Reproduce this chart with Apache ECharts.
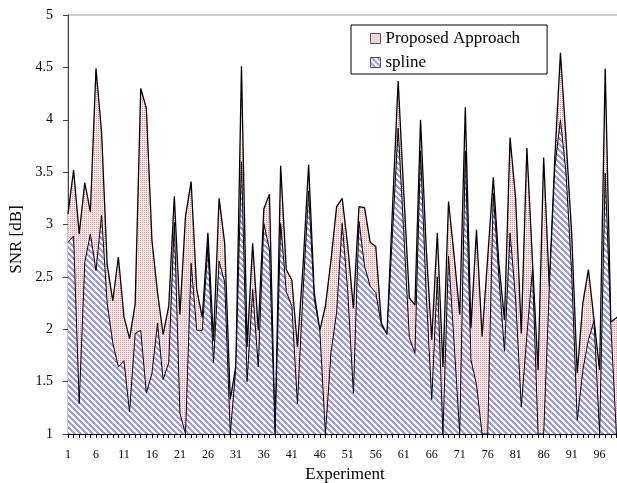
<!DOCTYPE html>
<html>
<head>
<meta charset="utf-8">
<script src="https://cdn.jsdelivr.net/npm/echarts@6/dist/echarts.min.js"></script>
<style>
  html, body { margin: 0; padding: 0; background: #fff; }
  #chart { width: 617px; height: 483px; }
</style>
</head>
<body>
<div id="chart"></div>
<script>
// experiment numbers 1..100
const experiments = [
  1, 2, 3, 4, 5, 6, 7, 8, 9, 10, 11, 12, 13, 14, 15, 16, 17, 18, 19, 20,
  21, 22, 23, 24, 25, 26, 27, 28, 29, 30, 31, 32, 33, 34, 35, 36, 37, 38, 39, 40,
  41, 42, 43, 44, 45, 46, 47, 48, 49, 50, 51, 52, 53, 54, 55, 56, 57, 58, 59, 60,
  61, 62, 63, 64, 65, 66, 67, 68, 69, 70, 71, 72, 73, 74, 75, 76, 77, 78, 79, 80,
  81, 82, 83, 84, 85, 86, 87, 88, 89, 90, 91, 92, 93, 94, 95, 96, 97, 98, 99, 100
];

const proposedSnr = [
  3.10, 3.52, 2.91, 3.40, 3.12, 4.49, 3.88, 2.62, 2.27, 2.69,
  2.12, 1.91, 2.24, 4.30, 4.11, 2.85, 2.35, 1.95, 2.22, 3.27,
  2.14, 3.08, 3.41, 2.38, 2.11, 2.92, 1.89, 3.25, 2.82, 1.33,
  1.65, 4.51, 1.83, 2.82, 1.99, 3.15, 3.29, 1.00, 3.56, 2.57,
  2.47, 1.83, 2.60, 3.57, 2.35, 1.99, 2.22, 2.66, 3.17, 3.25,
  2.79, 2.20, 3.17, 3.16, 2.83, 2.79, 2.06, 1.95, 3.17, 4.37,
  3.30, 2.30, 2.23, 4.00, 2.79, 1.90, 2.92, 1.64, 3.22, 2.70,
  2.14, 4.12, 2.01, 2.95, 1.93, 2.68, 3.45, 2.63, 2.09, 3.83,
  3.24, 1.96, 3.73, 2.65, 1.61, 3.64, 2.41, 3.64, 4.64, 3.81,
  2.92, 1.58, 2.25, 2.57, 2.09, 1.61, 4.49, 2.07, 2.11, 2.15
];

const splineSnr = [
  2.83, 2.89, 1.29, 2.64, 2.91, 2.56, 3.09, 2.25, 1.87, 1.64,
  1.70, 1.21, 1.96, 1.99, 1.39, 1.58, 2.06, 1.52, 1.68, 3.02,
  1.20, 1.00, 2.63, 1.99, 1.99, 2.79, 1.68, 2.65, 2.45, 1.00,
  1.64, 3.60, 1.50, 2.38, 1.64, 3.01, 2.76, 1.00, 3.01, 2.36,
  2.22, 1.29, 2.35, 3.32, 2.29, 1.99, 1.00, 1.78, 2.16, 3.01,
  2.35, 1.39, 3.03, 2.60, 2.41, 2.35, 2.04, 1.95, 2.93, 3.92,
  2.92, 1.92, 1.77, 3.70, 2.35, 1.33, 2.50, 1.00, 2.70, 1.87,
  1.00, 3.70, 1.71, 1.47, 1.00, 1.00, 3.30, 2.50, 1.79, 2.92,
  2.28, 1.26, 1.94, 2.57, 1.00, 1.00, 2.38, 3.55, 4.00, 3.49,
  2.54, 1.13, 1.61, 1.90, 2.08, 1.00, 3.49, 2.05, 1.00, 1.00
];

const FONT = '"Liberation Serif", "DejaVu Serif", serif';

// small repeating fills like the old spreadsheet patterns
function dotPattern() {
  const c = document.createElement('canvas');
  c.width = 2; c.height = 2;
  const ctx = c.getContext('2d');
  ctx.fillStyle = '#fdeaea';
  ctx.fillRect(0, 0, 2, 2);
  ctx.fillStyle = '#f29494';
  ctx.fillRect(0, 0, 1, 1);
  return { image: c, repeat: 'repeat' };
}

function hatchPattern() {
  const n = 6;
  const c = document.createElement('canvas');
  c.width = n; c.height = n;
  const ctx = c.getContext('2d');
  ctx.fillStyle = '#ffffff';
  ctx.fillRect(0, 0, n, n);
  ctx.fillStyle = '#9a9af2';
  for (let y = 0; y < n; y++) {
    for (let x = 0; x < n; x++) {
      if (((x - y) % n + n) % n < 3) ctx.fillRect(x, y, 1, 1);
    }
  }
  return { image: c, repeat: 'repeat' };
}

const chart = echarts.init(document.getElementById('chart'), null, { renderer: 'canvas' });

const pink = dotPattern();
const blue = hatchPattern();

chart.setOption({
  animation: false,
  textStyle: { fontFamily: FONT },
  grid: {
    left: 68,
    top: 15,
    width: 554,
    bottom: 49,
    outerBoundsMode: 'none',
    containLabel: false,
    show: true,
    borderColor: '#999',
    borderWidth: 1,
    backgroundColor: 'transparent'
  },
  legend: {
    orient: 'vertical',
    left: 351,
    top: 25,
    padding: [5, 27, 3, 19],
    itemGap: 7,
    itemWidth: 10,
    itemHeight: 10,
    backgroundColor: '#fff',
    borderColor: '#000',
    borderWidth: 1,
    borderRadius: 0,
    textStyle: { fontFamily: FONT, fontSize: 17, color: '#000' },
    data: [
      { name: 'Proposed Approach', icon: 'rect', itemStyle: { color: pink, borderColor: '#555', borderWidth: 1 } },
      { name: 'spline', icon: 'rect', itemStyle: { color: blue, borderColor: '#555', borderWidth: 1 } }
    ]
  },
  xAxis: {
    type: 'category',
    data: experiments,
    boundaryGap: false,
    name: 'Experiment',
    nameLocation: 'middle',
    nameGap: 31,
    nameTextStyle: { fontFamily: FONT, fontSize: 17, color: '#000' },
    axisLine: { lineStyle: { color: '#000', width: 1 } },
    axisTick: { show: true, interval: 0, length: 4, lineStyle: { color: '#000' } },
    axisLabel: { interval: 4, margin: 15, fontFamily: FONT, fontSize: 12, color: '#000' },
    splitLine: { show: false }
  },
  yAxis: {
    type: 'value',
    min: 1,
    max: 5,
    interval: 0.5,
    name: 'SNR [dB]',
    nameLocation: 'middle',
    nameGap: 42,
    nameTextStyle: { fontFamily: FONT, fontSize: 17, color: '#000', padding: [0, 30, 0, 0] },
    axisLine: { show: true, lineStyle: { color: '#444', width: 1 } },
    axisTick: { show: true, length: 5, lineStyle: { color: '#444' } },
    axisLabel: { margin: 15, fontFamily: FONT, fontSize: 14, color: '#000' },
    splitLine: { show: false }
  },
  series: [
    {
      name: 'Proposed Approach',
      type: 'line',
      data: proposedSnr,
      symbol: 'none',
      itemStyle: { color: '#f7c4c4' },
      lineStyle: { color: '#000', width: 1.3 },
      areaStyle: { color: pink, opacity: 1, origin: 'start' },
      z: 2
    },
    {
      name: 'spline',
      type: 'line',
      data: splineSnr,
      symbol: 'none',
      itemStyle: { color: '#9a9af2' },
      lineStyle: { color: '#000', width: 1 },
      areaStyle: { color: blue, opacity: 1, origin: 'start' },
      z: 3
    }
  ]
});
</script>
</body>
</html>
